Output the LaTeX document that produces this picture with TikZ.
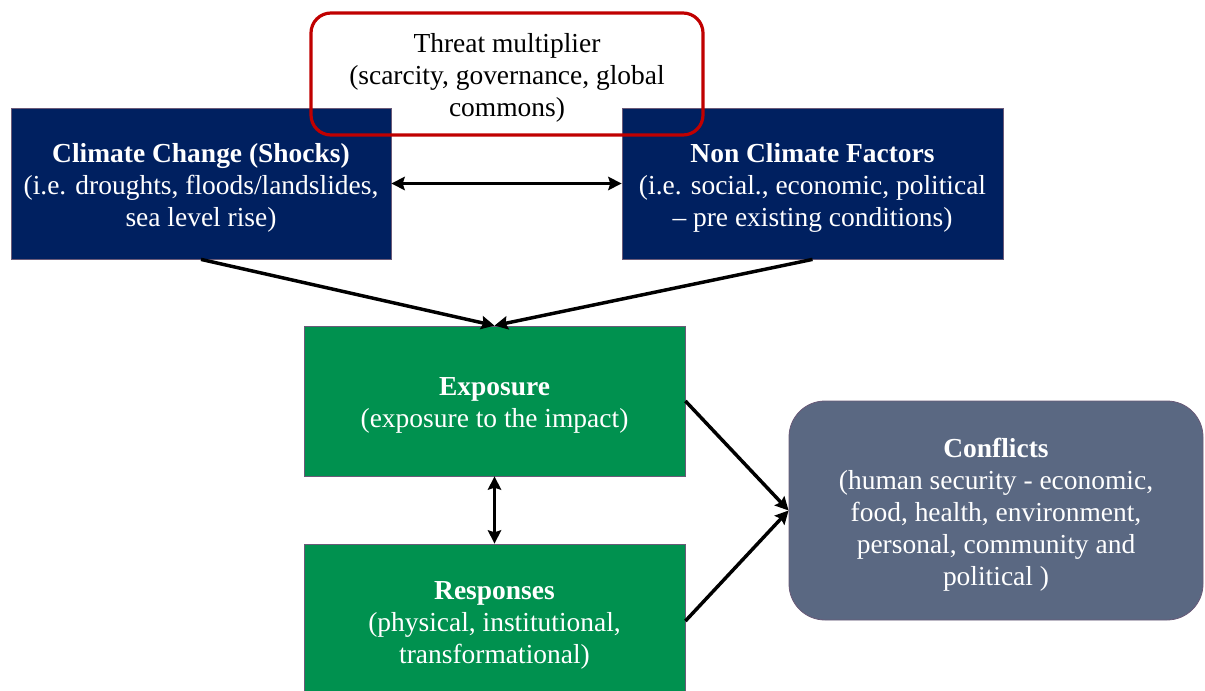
\documentclass[tikz,border=0pt]{standalone}
\usepackage{fontspec}
\setmainfont{Liberation Serif}
\usetikzlibrary{arrows.meta}
\definecolor{navy}{HTML}{002060}
\definecolor{grn}{HTML}{00914F}
\definecolor{slate}{HTML}{5A6882}
\definecolor{threatred}{HTML}{C00000}
\definecolor{edge}{HTML}{6A5A78}
\newcommand\toppad{\rule{0pt}{20.5pt}}
\tikzset{
  txt/.style={align=center, font=\fontsize{20.6}{24}\selectfont, inner sep=0pt},
  bluebox/.style={txt, fill=navy, draw=edge, line width=0.6pt, text=white, minimum width=285pt, minimum height=113.25pt},
  greenbox/.style={txt, fill=grn, draw=edge, line width=0.6pt, text=white, minimum width=285.75pt},
  threatbox/.style={txt, draw=threatred, line width=2.4pt, rounded corners=15pt, minimum width=294pt, minimum height=91.5pt, text=black},
  conflictbox/.style={txt, fill=slate, draw=edge, line width=0.6pt, rounded corners=27pt, text=white, minimum width=310.5pt, minimum height=164.25pt},
  conn/.style={line width=2.6pt, -{Stealth[length=10pt,width=10pt,inset=1.5pt]}},
  bconn/.style={line width=2.6pt, {Stealth[length=10pt,width=10pt,inset=1.5pt]}-{Stealth[length=10pt,width=10pt,inset=1.5pt]}}
}
\begin{document}
\begin{tikzpicture}[x=0.75pt,y=-0.75pt]
\useasboundingbox (0,0) rectangle (1205,691);
\node[bluebox] (climate) at (201,183.5) {\toppad\textbf{Climate Change (Shocks)}\\(i.e. droughts, floods/landslides,\\sea level rise)};
\node[bluebox, minimum width=285.75pt] (nonclimate) at (812.5,183.5) {\toppad\textbf{Non Climate Factors}\\(i.e. social., economic, political\\– pre existing conditions)};
\node[threatbox] (threat) at (507,74) {\toppad Threat multiplier\\(scarcity, governance, global\\commons)};
\node[greenbox, minimum height=112.5pt] (exposure) at (494.5,401) {\toppad\textbf{Exposure}\\(exposure to the impact)};
\node[greenbox, minimum height=115.5pt] (responses) at (494.5,621) {\toppad\textbf{Responses}\\(physical, institutional,\\transformational)};
\node[conflictbox] (conflicts) at (996,510.5) {\toppad\textbf{Conflicts}\\(human security - economic,\\food, health, environment,\\personal, community and\\political )};
\draw[bconn] (climate.east) -- (nonclimate.west);
\draw[conn] (climate.south) -- (exposure.north);
\draw[conn] (nonclimate.south) -- (exposure.north);
\draw[bconn] (exposure.south) -- (responses.north);
\draw[conn] (exposure.east) -- (conflicts.west);
\draw[conn] (responses.east) -- (conflicts.west);
\end{tikzpicture}
\end{document}
